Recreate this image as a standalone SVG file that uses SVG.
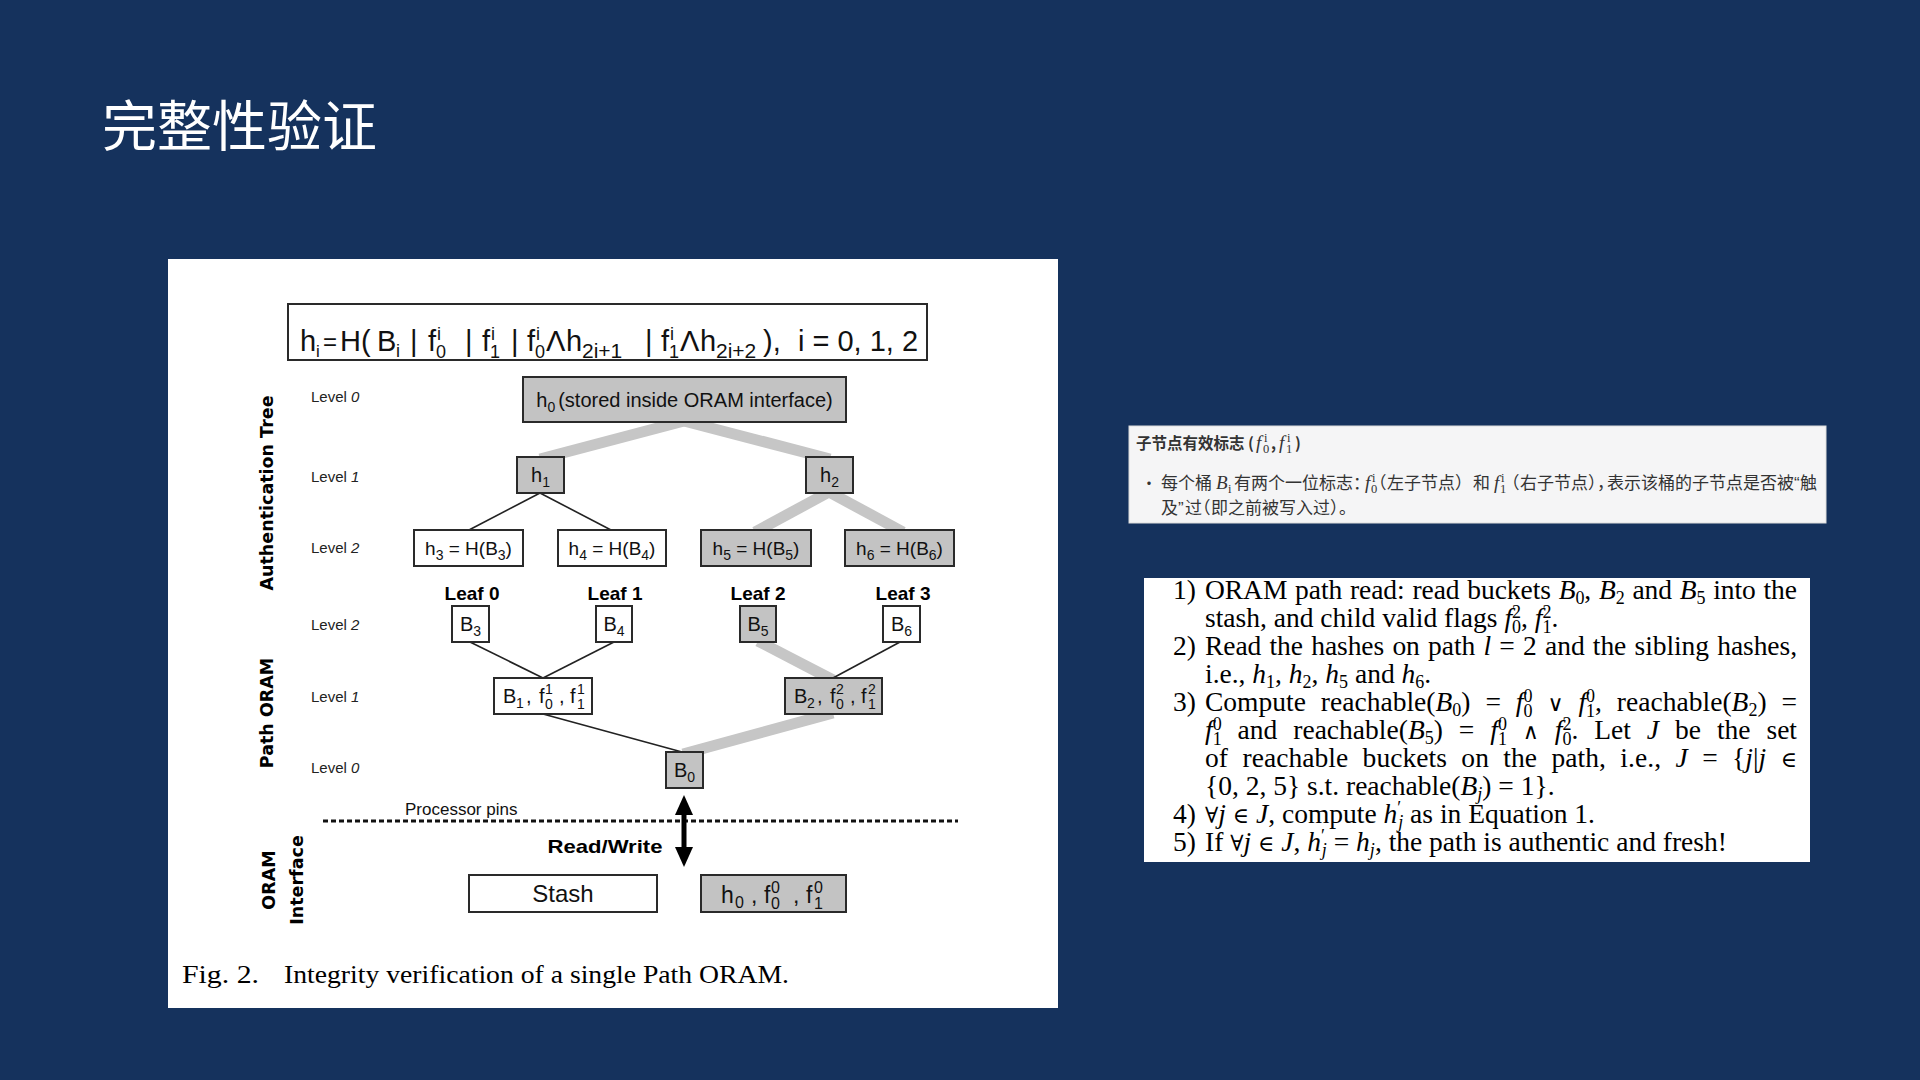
<svg xmlns="http://www.w3.org/2000/svg" width="1920" height="1080" viewBox="0 0 1920 1080">
<style>
.lvl{font-family:'Liberation Sans',Arial,sans-serif;font-size:15px;fill:#222}
.box{stroke:#2a2a2a;stroke-width:2}
.w{fill:#fff}
.g{fill:#c3c3c3}
.thick{stroke:#c6c6c6;stroke-width:11;fill:none}
.thin{stroke:#222;stroke-width:1.6;fill:none}
.side{font-family:'DejaVu Sans',Verdana,sans-serif;font-weight:bold;font-size:17.5px;fill:#000;text-anchor:middle}
.lbl{font-family:'Liberation Sans',Arial,sans-serif;fill:#111}
.mid{text-anchor:middle}
.leaf{font-family:'Liberation Sans',Arial,sans-serif;font-size:19px;font-weight:bold;fill:#000;text-anchor:middle}
.ser{font-family:'Liberation Serif','Times New Roman',serif;font-size:27.5px;fill:#000}
.it{font-style:italic}
.s{font-size:18px}
.sym{font-family:'DejaVu Serif',serif;font-size:22px}
.cn{font-family:'Noto Sans CJK SC',sans-serif;fill:#333}
.mi{font-family:'Liberation Serif',serif;font-style:italic;font-size:19px}
.ms{font-family:'Liberation Serif',serif;font-size:12.5px}
.q{font-family:'Liberation Sans',sans-serif}
.h{font-feature-settings:'halt'}
</style>
<defs>
<marker id="ah" markerUnits="userSpaceOnUse" viewBox="0 0 20 20" markerWidth="20" markerHeight="20" refX="2" refY="10" orient="auto-start-reverse">
<path d="M0,1 L20,10 L0,19 z" fill="#000"/>
</marker>
</defs>
<rect x="0" y="0" width="1920" height="1080" fill="#15325d"/>
<text x="102" y="146" font-family="'Noto Sans CJK SC',sans-serif" font-size="55" fill="#fff">完整性验证</text>

<g id="figure">
<rect x="168" y="259" width="890" height="749" fill="#fff"/>

<g id="formula">
<rect class="box w" x="288" y="304" width="639" height="56"/>
<text font-family="'Liberation Sans',Arial,sans-serif" font-size="29" fill="#111">
<tspan x="300" y="351">h</tspan><tspan x="316" y="357" font-size="17">i</tspan>
<tspan x="323" y="350" font-size="24">=</tspan><tspan x="340" y="351">H(</tspan>
<tspan x="377" y="351">B</tspan><tspan x="396" y="357" font-size="18">i</tspan>
<tspan x="410" y="351">|</tspan>
<tspan x="428" y="351">f</tspan><tspan x="436" y="358" font-size="18">0</tspan><tspan x="437" y="340" font-size="18">i</tspan>
<tspan x="465" y="351">|</tspan>
<tspan x="482" y="351">f</tspan><tspan x="490" y="358" font-size="18">1</tspan><tspan x="491" y="340" font-size="18">i</tspan>
<tspan x="511" y="351">|</tspan>
<tspan x="527" y="351">f</tspan><tspan x="535" y="358" font-size="18">0</tspan><tspan x="536" y="340" font-size="18">i</tspan>
<tspan x="546" y="351">Λ</tspan><tspan x="566" y="351">h</tspan><tspan x="582" y="358" font-size="21">2i+1</tspan>
<tspan x="645" y="351">|</tspan>
<tspan x="661" y="351">f</tspan><tspan x="669" y="358" font-size="18">1</tspan><tspan x="670" y="340" font-size="18">i</tspan>
<tspan x="680" y="351">Λ</tspan><tspan x="700" y="351">h</tspan><tspan x="716" y="358" font-size="21">2i+2</tspan>
<tspan x="763" y="351">),</tspan>
<tspan x="798" y="351">i = 0, 1, 2</tspan>
</text>
</g>

<g id="side-labels">
<text class="side" transform="translate(273,493) rotate(-90)">Authentication Tree</text>
<text class="side" transform="translate(273,713) rotate(-90)">Path ORAM</text>
<text class="side" transform="translate(275,880) rotate(-90)">ORAM</text>
<text class="side" transform="translate(303,880) rotate(-90)">Interface</text>
</g>

<g id="level-labels">
<text class="lvl" x="311" y="402">Level <tspan font-style="italic">0</tspan></text>
<text class="lvl" x="311" y="482">Level <tspan font-style="italic">1</tspan></text>
<text class="lvl" x="311" y="553">Level <tspan font-style="italic">2</tspan></text>
<text class="lvl" x="311" y="630">Level <tspan font-style="italic">2</tspan></text>
<text class="lvl" x="311" y="702">Level <tspan font-style="italic">1</tspan></text>
<text class="lvl" x="311" y="773">Level <tspan font-style="italic">0</tspan></text>
</g>

<g id="connectors">
<line class="thick" x1="684" y1="421" x2="540" y2="459"/>
<line class="thick" x1="684" y1="421" x2="830" y2="459"/>
<line class="thick" x1="829" y1="492" x2="755" y2="532"/>
<line class="thick" x1="829" y1="492" x2="903" y2="532"/>
<line class="thick" x1="758" y1="641" x2="833" y2="680"/>
<line class="thick" x1="833" y1="713" x2="683" y2="754"/>
<line class="thin" x1="540" y1="493" x2="469" y2="530"/>
<line class="thin" x1="540" y1="493" x2="611" y2="530"/>
<line class="thin" x1="470" y1="642" x2="543" y2="678"/>
<line class="thin" x1="614" y1="642" x2="543" y2="678"/>
<line class="thin" x1="900" y1="642" x2="833" y2="678"/>
<line class="thin" x1="543" y1="714" x2="682" y2="752"/>
<line x1="323" y1="821" x2="958" y2="821" stroke="#111" stroke-width="3" stroke-dasharray="5 3"/>
<line x1="684" y1="813" x2="684" y2="849" stroke="#000" stroke-width="5" marker-start="url(#ah)" marker-end="url(#ah)"/>
</g>

<g id="h0">
<rect class="box g" x="523" y="377" width="323" height="45"/>
<text class="lbl mid" font-size="20" x="684.5" y="407">h<tspan font-size="14" dy="5">0</tspan><tspan dy="-5" dx="3">(stored inside ORAM interface)</tspan></text>
</g>
<g id="h1">
<rect class="box g" x="517" y="457" width="47" height="36"/>
<text class="lbl mid" font-size="20" x="540.5" y="482">h<tspan font-size="14" dy="5">1</tspan></text>
</g>
<g id="h2">
<rect class="box g" x="806" y="457" width="47" height="36"/>
<text class="lbl mid" font-size="20" x="829.5" y="482">h<tspan font-size="14" dy="5">2</tspan></text>
</g>
<g id="h3">
<rect class="box w" x="414" y="530" width="109" height="36"/>
<text class="lbl mid" font-size="19" x="468.5" y="555">h<tspan font-size="14" dy="5">3</tspan><tspan dy="-5"> = H(B</tspan><tspan font-size="14" dy="5">3</tspan><tspan dy="-5">)</tspan></text>
</g>
<g id="h4">
<rect class="box w" x="558" y="530" width="108" height="36"/>
<text class="lbl mid" font-size="19" x="612" y="555">h<tspan font-size="14" dy="5">4</tspan><tspan dy="-5"> = H(B</tspan><tspan font-size="14" dy="5">4</tspan><tspan dy="-5">)</tspan></text>
</g>
<g id="h5">
<rect class="box g" x="701" y="530" width="110" height="36"/>
<text class="lbl mid" font-size="19" x="756" y="555">h<tspan font-size="14" dy="5">5</tspan><tspan dy="-5"> = H(B</tspan><tspan font-size="14" dy="5">5</tspan><tspan dy="-5">)</tspan></text>
</g>
<g id="h6">
<rect class="box g" x="845" y="530" width="109" height="36"/>
<text class="lbl mid" font-size="19" x="899.5" y="555">h<tspan font-size="14" dy="5">6</tspan><tspan dy="-5"> = H(B</tspan><tspan font-size="14" dy="5">6</tspan><tspan dy="-5">)</tspan></text>
</g>

<g id="leaves">
<text class="leaf" x="472" y="600">Leaf 0</text>
<text class="leaf" x="615" y="600">Leaf 1</text>
<text class="leaf" x="758" y="600">Leaf 2</text>
<text class="leaf" x="903" y="600">Leaf 3</text>
</g>

<g id="B3">
<rect class="box w" x="452" y="606" width="37" height="36"/>
<text class="lbl mid" font-size="20" x="470.5" y="631">B<tspan font-size="14" dy="5">3</tspan></text>
</g>
<g id="B4">
<rect class="box w" x="596" y="606" width="36" height="36"/>
<text class="lbl mid" font-size="20" x="614" y="631">B<tspan font-size="14" dy="5">4</tspan></text>
</g>
<g id="B5">
<rect class="box g" x="740" y="606" width="36" height="36"/>
<text class="lbl mid" font-size="20" x="758" y="631">B<tspan font-size="14" dy="5">5</tspan></text>
</g>
<g id="B6">
<rect class="box w" x="883" y="606" width="37" height="36"/>
<text class="lbl mid" font-size="20" x="901.5" y="631">B<tspan font-size="14" dy="5">6</tspan></text>
</g>

<g id="B1">
<rect class="box w" x="494" y="678" width="98" height="36"/>
<text class="lbl" font-size="20"><tspan x="503" y="703">B</tspan><tspan x="516" y="708" font-size="14">1</tspan><tspan x="526" y="703">,</tspan><tspan x="539" y="703">f</tspan><tspan x="545" y="709" font-size="14">0</tspan><tspan x="545" y="694" font-size="14">1</tspan><tspan x="559" y="703">,</tspan><tspan x="570" y="703">f</tspan><tspan x="577" y="709" font-size="14">1</tspan><tspan x="577" y="694" font-size="14">1</tspan></text>
</g>
<g id="B2">
<rect class="box g" x="785" y="678" width="97" height="36"/>
<text class="lbl" font-size="20"><tspan x="794" y="703">B</tspan><tspan x="807" y="708" font-size="14">2</tspan><tspan x="817" y="703">,</tspan><tspan x="830" y="703">f</tspan><tspan x="836" y="709" font-size="14">0</tspan><tspan x="836" y="694" font-size="14">2</tspan><tspan x="850" y="703">,</tspan><tspan x="861" y="703">f</tspan><tspan x="868" y="709" font-size="14">1</tspan><tspan x="868" y="694" font-size="14">2</tspan></text>
</g>
<g id="B0">
<rect class="box g" x="666" y="752" width="37" height="36"/>
<text class="lbl mid" font-size="20" x="684.5" y="777">B<tspan font-size="14" dy="5">0</tspan></text>
</g>

<text class="lbl" font-size="17" x="405" y="815">Processor pins</text>
<text class="leaf" x="605" y="853" textLength="115" lengthAdjust="spacingAndGlyphs">Read/Write</text>

<g id="stash">
<rect class="box w" x="469" y="875" width="188" height="37"/>
<text class="lbl mid" font-size="24" x="563" y="902">Stash</text>
</g>
<g id="root-state">
<rect class="box g" x="701" y="875" width="145" height="37"/>
<text class="lbl" font-size="23"><tspan x="721" y="903">h</tspan><tspan x="735" y="908" font-size="16">0</tspan><tspan x="751" y="903">,</tspan><tspan x="764" y="903">f</tspan><tspan x="771" y="909" font-size="16">0</tspan><tspan x="771" y="893" font-size="16">0</tspan><tspan x="793" y="903">,</tspan><tspan x="806" y="903">f</tspan><tspan x="814" y="909" font-size="16">1</tspan><tspan x="814" y="893" font-size="16">0</tspan></text>
</g>

<text font-family="'Liberation Serif','Times New Roman',serif" font-size="26" fill="#000" x="182" y="983" textLength="77" lengthAdjust="spacingAndGlyphs">Fig. 2.</text>
<text font-family="'Liberation Serif','Times New Roman',serif" font-size="26" fill="#000" x="284" y="983" textLength="505" lengthAdjust="spacingAndGlyphs">Integrity verification of a single Path ORAM.</text>
</g>

<g id="flags-note">
<rect x="1129" y="426" width="697" height="97" fill="#f5f5f6" stroke="#dcdcdc" stroke-width="1"/>
<text class="cn" font-size="15.5" font-weight="bold" fill="#222"><tspan x="1136" y="449">子节点有效标志 (</tspan><tspan class="mi" x="1256" y="449" font-weight="normal">f</tspan><tspan class="ms" x="1263" y="453" font-weight="normal">0</tspan><tspan class="ms" x="1264" y="442" font-weight="normal">i</tspan><tspan x="1271" y="449">,</tspan><tspan class="mi" x="1279" y="449" font-weight="normal">f</tspan><tspan class="ms" x="1286" y="453" font-weight="normal">1</tspan><tspan class="ms" x="1287" y="442" font-weight="normal">i</tspan><tspan x="1295" y="449">)</tspan></text>
<text class="cn" font-size="16" x="1141" y="489" fill="#555">•</text>
<text class="cn" font-size="17"><tspan x="1161" y="489">每个桶</tspan><tspan class="mi" x="1216" y="489">B</tspan><tspan class="ms" x="1228" y="493">i</tspan><tspan x="1234" y="489">有两个一位标志</tspan><tspan class="h" x="1353" y="489">：</tspan><tspan class="mi" x="1365" y="489">f</tspan><tspan class="ms" x="1371" y="493">0</tspan><tspan class="ms" x="1372" y="482">i</tspan><tspan class="h" x="1378" y="489">（</tspan><tspan x="1387" y="489">左子节点</tspan><tspan class="h" x="1455" y="489">）</tspan><tspan x="1473" y="489">和</tspan><tspan class="mi" x="1494" y="489">f</tspan><tspan class="ms" x="1500" y="493">1</tspan><tspan class="ms" x="1501" y="482">i</tspan><tspan class="h" x="1511" y="489">（</tspan><tspan x="1520" y="489">右子节点</tspan><tspan class="h" x="1588" y="489">）</tspan><tspan class="h" x="1597" y="489">，</tspan><tspan x="1607" y="489">表示该桶的子节点是否被</tspan><tspan class="q" x="1794" y="489">“</tspan><tspan x="1800" y="489">触</tspan></text>
<text class="cn" font-size="17"><tspan x="1161" y="514">及</tspan><tspan class="q" x="1178" y="514">”</tspan><tspan x="1185" y="514">过</tspan><tspan class="h" x="1202" y="514">（</tspan><tspan x="1211" y="514">即之前被写入过</tspan><tspan class="h" x="1330" y="514">）</tspan><tspan class="h" x="1339" y="514">。</tspan></text>
</g>

<g id="steps">
<rect x="1144" y="578" width="666" height="284" fill="#fff"/>
<text class="ser" x="1173" y="599">1)</text>
<text class="ser" x="1205" y="599" textLength="592" lengthAdjust="spacing" word-spacing="1">ORAM path read: read buckets <tspan class="it">B</tspan><tspan class="s" dy="5">0</tspan><tspan dy="-5">, </tspan><tspan class="it">B</tspan><tspan class="s" dy="5">2</tspan><tspan dy="-5"> and </tspan><tspan class="it">B</tspan><tspan class="s" dy="5">5</tspan><tspan dy="-5"> into the</tspan></text>
<text class="ser" x="1205" y="627">stash, and child valid flags <tspan class="it">f</tspan><tspan class="s" dy="6">0</tspan><tspan class="s" dx="-9" dy="-15">2</tspan><tspan dy="9">, </tspan><tspan class="it">f</tspan><tspan class="s" dy="6">1</tspan><tspan class="s" dx="-9" dy="-15">2</tspan><tspan dy="9">.</tspan></text>
<text class="ser" x="1173" y="655">2)</text>
<text class="ser" x="1205" y="655" textLength="592" lengthAdjust="spacing" word-spacing="1.5">Read the hashes on path <tspan class="it">l</tspan> = 2 and the sibling hashes,</text>
<text class="ser" x="1205" y="683">i.e., <tspan class="it">h</tspan><tspan class="s" dy="5">1</tspan><tspan dy="-5">, </tspan><tspan class="it">h</tspan><tspan class="s" dy="5">2</tspan><tspan dy="-5">, </tspan><tspan class="it">h</tspan><tspan class="s" dy="5">5</tspan><tspan dy="-5"> and </tspan><tspan class="it">h</tspan><tspan class="s" dy="5">6</tspan><tspan dy="-5">.</tspan></text>
<text class="ser" x="1173" y="711">3)</text>
<text class="ser" x="1205" y="711" textLength="592" lengthAdjust="spacing" word-spacing="8">Compute reachable(<tspan class="it">B</tspan><tspan class="s" dy="5">0</tspan><tspan dy="-5">) = </tspan><tspan class="it">f</tspan><tspan class="s" dy="6">0</tspan><tspan class="s" dx="-9" dy="-15">0</tspan><tspan dy="9"> </tspan><tspan class="sym">∨</tspan> <tspan class="it">f</tspan><tspan class="s" dy="6">1</tspan><tspan class="s" dx="-9" dy="-15">0</tspan><tspan dy="9">, reachable(</tspan><tspan class="it">B</tspan><tspan class="s" dy="5">2</tspan><tspan dy="-5">) =</tspan></text>
<text class="ser" x="1205" y="739" textLength="592" lengthAdjust="spacing" word-spacing="9"><tspan class="it">f</tspan><tspan class="s" dy="6">1</tspan><tspan class="s" dx="-9" dy="-15">0</tspan><tspan dy="9"> and reachable(</tspan><tspan class="it">B</tspan><tspan class="s" dy="5">5</tspan><tspan dy="-5">) = </tspan><tspan class="it">f</tspan><tspan class="s" dy="6">1</tspan><tspan class="s" dx="-9" dy="-15">0</tspan><tspan dy="9"> </tspan><tspan class="sym">∧</tspan> <tspan class="it">f</tspan><tspan class="s" dy="6">0</tspan><tspan class="s" dx="-9" dy="-15">2</tspan><tspan dy="9">. Let </tspan><tspan class="it">J</tspan> be the set</text>
<text class="ser" x="1205" y="767" textLength="592" lengthAdjust="spacing" word-spacing="7.5">of reachable buckets on the path, i.e., <tspan class="it">J</tspan> = {<tspan class="it">j</tspan>|<tspan class="it">j</tspan> <tspan class="sym">∈</tspan></text>
<text class="ser" x="1205" y="795">{0, 2, 5} s.t. reachable(<tspan class="it">B</tspan><tspan class="s it" dy="5">j</tspan><tspan dy="-5">) = 1}.</tspan></text>
<text class="ser" x="1173" y="823">4)</text>
<text class="ser" x="1205" y="823"><tspan class="sym">∀</tspan><tspan class="it">j</tspan> <tspan class="sym">∈</tspan> <tspan class="it">J</tspan>, compute <tspan class="it">h</tspan><tspan class="s" dy="-9">′</tspan><tspan class="s it" dx="-3" dy="14">j</tspan><tspan dy="-5"> as in Equation 1.</tspan></text>
<text class="ser" x="1173" y="851">5)</text>
<text class="ser" x="1205" y="851">If <tspan class="sym">∀</tspan><tspan class="it">j</tspan> <tspan class="sym">∈</tspan> <tspan class="it">J</tspan>, <tspan class="it">h</tspan><tspan class="s" dy="-9">′</tspan><tspan class="s it" dx="-3" dy="14">j</tspan><tspan dy="-5"> = </tspan><tspan class="it">h</tspan><tspan class="s it" dy="5">j</tspan><tspan dy="-5">, the path is authentic and fresh!</tspan></text>
</g>
</svg>
